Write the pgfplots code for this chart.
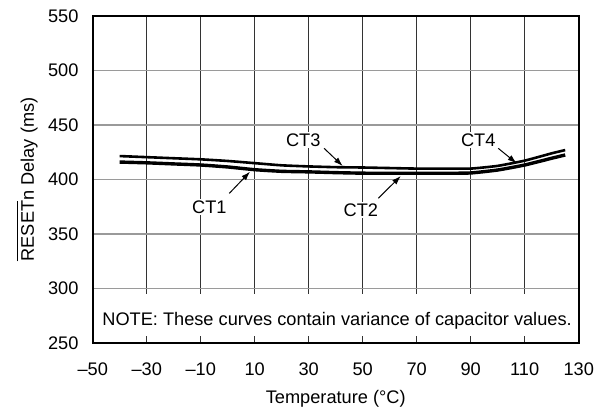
\documentclass[border=0pt]{standalone}
\usepackage{pgfplots}
\pgfplotsset{compat=1.18}
\usepackage{fontspec}
\setmainfont{Liberation Sans}
\usetikzlibrary{arrows.meta}
\definecolor{hgrid}{HTML}{9A9A9A}
\definecolor{vgrid}{HTML}{333333}
\newcommand\ovl[1]{\leavevmode\vbox{\hrule height 1.1bp\kern3bp\hbox{#1}}}
\begin{document}
\fontsize{18.2bp}{22bp}\selectfont
\begin{tikzpicture}
\useasboundingbox (-92.7bp,-68bp) rectangle (502.3bp,343bp);
\begin{axis}[
  scale only axis,
  width=486bp, height=327bp,
  xmin=-50, xmax=130, ymin=250, ymax=550,
  xtick={-50,-30,...,130},
  xticklabels={--50,--30,--10,10,30,50,70,90,110,130},
  ytick={250,300,...,550},
  yticklabels={250,300,350,400,450,500,550},
  major tick length=0pt,
  xmajorgrids, ymajorgrids,
  x grid style={vgrid, line width=0.9bp},
  y grid style={hgrid, line width=1.2bp},
  axis line style={line width=2.2bp, black},
  tick label style={font=\fontsize{18.2bp}{22bp}\selectfont},
  label style={font=\fontsize{18.2bp}{22bp}\selectfont},
  xticklabel style={yshift=-14bp},
  yticklabel style={xshift=-8bp},
  xlabel={Temperature (°C)},
  ylabel={\ovl{RESET}n Delay (ms)},
  xlabel style={yshift=-2bp},
  ylabel style={yshift=-2bp},
  clip=false,
]
\addplot[line width=2.6bp, black, smooth, tension=0.3] coordinates {
(-40,421.5) (-30,420.5) (-20,419.5) (-10,418.5) (0,417) (10,415) (20,413)
(30,412) (40,411.3) (50,411) (60,410.5) (70,410) (80,410) (90,410)
(100,412.5) (110,417.3) (120,424) (125,427)};
\addplot[line width=3.4bp, black, smooth, tension=0.3] coordinates {
(-40,416) (-30,415.3) (-20,414.3) (-10,413.3) (0,411.5) (10,409) (20,407.5)
(30,407) (40,406.3) (50,405.8) (60,405.7) (70,405.7) (80,405.7) (90,406)
(100,408.7) (110,413.3) (120,419.5) (125,422.5)};
% note box
\fill[white] (axis cs:-50,250) rectangle (axis cs:130,300);
\draw[hgrid, line width=1.2bp] (axis cs:-50,300) -- (axis cs:130,300);
\pgfplotsinvokeforeach{-30,-10,10,30,50,70,90,110}{
  \draw[vgrid, line width=0.9bp] (axis cs:#1,300) -- (axis cs:#1,294.5);
  \draw[vgrid, line width=0.9bp] (axis cs:#1,250) -- (axis cs:#1,256.5);
}
\node[anchor=base] at (axis cs:40.5,266.5) {NOTE: These curves contain variance of capacitor values.};
\draw[line width=2.2bp, black] (rel axis cs:0,0) rectangle (rel axis cs:1,1);
% labels
\node[fill=white, inner sep=1.5bp] at (axis cs:-6.8,374.5) {CT1};
\node[fill=white, inner sep=1.5bp] at (axis cs:28,436.2) {CT3};
\node[fill=white, inner sep=1.5bp] at (axis cs:49.3,372) {CT2};
\node[fill=white, inner sep=1.5bp] at (axis cs:92.8,436.2) {CT4};
\draw[line width=1bp, -{Latex[length=9bp,width=6bp]}] (axis cs:0.6,387.3) -- (axis cs:8.3,407.2);
\draw[line width=1bp, -{Latex[length=9bp,width=6bp]}] (axis cs:35.7,428.6) -- (axis cs:42.6,412.4);
\draw[line width=1bp, -{Latex[length=9bp,width=6bp]}] (axis cs:55.8,382.8) -- (axis cs:64.1,403.2);
\draw[line width=1bp, -{Latex[length=9bp,width=6bp]}] (axis cs:100.2,428.6) -- (axis cs:107,414.9);
\end{axis}
\end{tikzpicture}
\end{document}
